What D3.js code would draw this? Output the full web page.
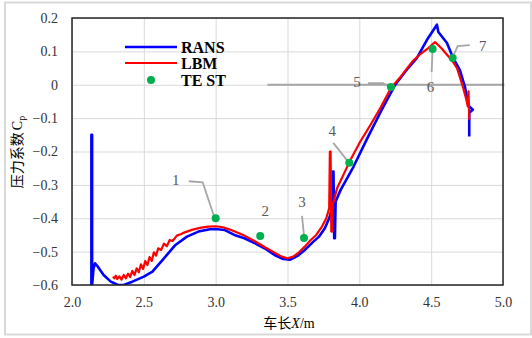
<!DOCTYPE html>
<html>
<head>
<meta charset="utf-8">
<script src="https://cdn.jsdelivr.net/npm/d3@7"></script>
<style>
  body { margin: 0; background: #fff; }
  svg { display: block; }
</style>
</head>
<body>
<svg width="532" height="338"></svg>
<script>
// ---- data ----
const xTicks = [2.0, 2.5, 3.0, 3.5, 4.0, 4.5, 5.0];
const yTicks = [0.2, 0.1, 0, -0.1, -0.2, -0.3, -0.4, -0.5, -0.6];

// RANS pressure coefficient along the car
const ransX = [2.135, 2.135, 2.14, 2.14, 2.15, 2.16, 2.18, 2.22, 2.27, 2.32, 2.36, 2.42, 2.5, 2.56, 2.64, 2.72, 2.8, 2.88, 2.96, 3.0, 3.06, 3.13, 3.2, 3.27, 3.34, 3.41, 3.47, 3.52, 3.57, 3.62, 3.68, 3.72, 3.76, 3.79, 3.81, 3.815, 3.82, 3.825, 3.83, 3.835, 3.87, 3.96, 4.05, 4.15, 4.25, 4.33, 4.40, 4.47, 4.54, 4.55, 4.61, 4.65, 4.70, 4.735, 4.755, 4.765, 4.79, 4.775, 4.765, 4.765];
const ransY = [-0.60, -0.15, -0.15, -0.60, -0.55, -0.535, -0.545, -0.57, -0.59, -0.60, -0.60, -0.59, -0.575, -0.56, -0.52, -0.48, -0.455, -0.44, -0.433, -0.432, -0.435, -0.45, -0.46, -0.474, -0.49, -0.51, -0.522, -0.524, -0.513, -0.495, -0.47, -0.455, -0.43, -0.40, -0.37, -0.26, -0.26, -0.46, -0.46, -0.35, -0.315, -0.245, -0.165, -0.08, 0.0, 0.045, 0.08, 0.134, 0.18, 0.158, 0.125, 0.083, 0.044, -0.006, -0.05, -0.065, -0.075, -0.08, -0.085, -0.155];

// LBM pressure coefficient (jagged near the front)
const lbmX = [2.285, 2.295, 2.305, 2.315, 2.33, 2.345, 2.36, 2.375, 2.39, 2.405, 2.42, 2.435, 2.45, 2.465, 2.48, 2.495, 2.51, 2.525, 2.54, 2.555, 2.57, 2.585, 2.60, 2.62, 2.64, 2.66, 2.68, 2.70, 2.73, 2.76, 2.78, 2.80, 2.84, 2.9, 2.95, 3.0, 3.05, 3.1, 3.15, 3.2, 3.27, 3.34, 3.41, 3.46, 3.5, 3.54, 3.58, 3.62, 3.66, 3.70, 3.74, 3.77, 3.79, 3.795, 3.80, 3.805, 3.81, 3.815, 3.845, 3.935, 4.0, 4.075, 4.15, 4.22, 4.28, 4.37, 4.42, 4.48, 4.527, 4.57, 4.61, 4.65, 4.68, 4.72, 4.745, 4.755, 4.76, 4.765];
const lbmY = [-0.575, -0.58, -0.572, -0.582, -0.574, -0.584, -0.57, -0.58, -0.566, -0.576, -0.558, -0.57, -0.55, -0.562, -0.538, -0.552, -0.528, -0.54, -0.516, -0.528, -0.502, -0.512, -0.49, -0.495, -0.476, -0.484, -0.465, -0.468, -0.452, -0.447, -0.443, -0.44, -0.434, -0.428, -0.425, -0.424, -0.427, -0.434, -0.443, -0.452, -0.468, -0.486, -0.503, -0.515, -0.52, -0.515, -0.502, -0.485, -0.466, -0.45, -0.425, -0.40, -0.37, -0.20, -0.20, -0.44, -0.44, -0.36, -0.31, -0.228, -0.175, -0.122, -0.067, -0.01, 0.02, 0.07, 0.09, 0.11, 0.128, 0.11, 0.09, 0.07, 0.05, -0.005, -0.045, -0.065, -0.02, -0.105];

// wind tunnel test points
const testX = [3.0, 3.31, 3.615, 3.93, 4.22, 4.51, 4.65];
const testY = [-0.40, -0.453, -0.459, -0.234, -0.007, 0.107, 0.08];
const testLabels = ["1", "2", "3", "4", "5", "6", "7"];

// ---- layout ----
const svg = d3.select("svg");
const plot = {left: 72, top: 18, right: 503, bottom: 285};

const x = d3.scaleLinear().domain([2, 5]).range([plot.left, plot.right]);
const y = d3.scaleLinear().domain([-0.6, 0.2]).range([plot.bottom, plot.top]);

const serif = "'Liberation Serif', 'Times New Roman', serif";
const cjk = "'Noto Sans CJK SC', sans-serif";

// outer chart frame
svg.append("rect")
  .attr("x", 5).attr("y", 2.5).attr("width", 526).attr("height", 332)
  .attr("fill", "none").attr("stroke", "#d9d9d9").attr("stroke-width", 2);

// gridlines
svg.append("g")
  .attr("transform", `translate(0,${plot.bottom})`)
  .call(d3.axisBottom(x).tickValues(xTicks).tickSize(-(plot.bottom - plot.top)).tickFormat(""))
  .call(g => g.select(".domain").remove())
  .call(g => g.selectAll("line").attr("stroke", "#d9d9d9").attr("stroke-width", 1));

svg.append("g")
  .attr("transform", `translate(${plot.left},0)`)
  .call(d3.axisLeft(y).tickValues(yTicks).tickSize(-(plot.right - plot.left)).tickFormat(""))
  .call(g => g.select(".domain").remove())
  .call(g => g.selectAll("line").attr("stroke", "#d9d9d9").attr("stroke-width", 1));

// tick labels
svg.append("g")
  .attr("transform", `translate(0,${plot.bottom})`)
  .call(d3.axisBottom(x).tickValues(xTicks).tickSize(0).tickPadding(12).tickFormat(d3.format(".1f")))
  .call(g => g.select(".domain").remove())
  .call(g => g.selectAll("text").attr("font-family", serif).attr("font-size", 14).attr("fill", "#333"));

svg.append("g")
  .attr("transform", `translate(${plot.left},0)`)
  .call(d3.axisLeft(y).tickValues(yTicks).tickSize(0).tickPadding(14).tickFormat(d => d === 0 ? "0" : d3.format(".1f")(d)))
  .call(g => g.select(".domain").remove())
  .call(g => g.selectAll("text").attr("font-family", serif).attr("font-size", 14).attr("fill", "#333"));

// gray zero reference line
svg.append("line")
  .attr("x1", x(3.36)).attr("x2", x(5.01))
  .attr("y1", y(0)).attr("y2", y(0))
  .attr("stroke", "#a6a6a6").attr("stroke-width", 2);

// curves
svg.append("clipPath").attr("id", "clip")
  .append("rect").attr("x", plot.left).attr("y", plot.top - 2)
  .attr("width", plot.right - plot.left).attr("height", plot.bottom - plot.top + 2);

const line = d3.line().x(d => x(d[0])).y(d => y(d[1]));
const rans = ransX.map((v, i) => [v, ransY[i]]);
const lbm  = lbmX.map((v, i) => [v, lbmY[i]]);

const curves = svg.append("g").attr("clip-path", "url(#clip)");
curves.append("path").attr("d", line(rans))
  .attr("fill", "none").attr("stroke", "#0000ff").attr("stroke-width", 2.6)
  .attr("stroke-linejoin", "round");
curves.append("path").attr("d", line(lbm))
  .attr("fill", "none").attr("stroke", "#ff0000").attr("stroke-width", 2.2)
  .attr("stroke-linejoin", "round");

// plot border
svg.append("rect")
  .attr("x", plot.left).attr("y", plot.top)
  .attr("width", plot.right - plot.left).attr("height", plot.bottom - plot.top)
  .attr("fill", "none").attr("stroke", "#262626").attr("stroke-width", 1.5);

// annotation leaders (pixel offsets from each test point)
const labelOffsets = [[-40, -33], [5, -20], [-2, -31], [-17, -27], [-34, 0], [-2, 43], [30, -7]];
const leaderOffsets = [
  [[-27, -37], [-13, -36], [-2, -3]],
  null,
  [[-2, -22], [0, -2]],
  [[-16, -20], [-1, -1]],
  [[-23, -4], [-8, -4], [-1, 0]],
  [[-1, 23], [0, 2]],
  [[17, -13], [5, -12], [0, -1]]
];

const tests = testX.map((v, i) => ({x: v, y: testY[i], label: testLabels[i], lo: labelOffsets[i], lead: leaderOffsets[i]}));

const ann = svg.append("g");
tests.forEach(t => {
  const px = x(t.x), py = y(t.y);
  if (t.lead) {
    ann.append("path")
      .attr("d", d3.line()(t.lead.map(p => [px + p[0], py + p[1]])))
      .attr("fill", "none").attr("stroke", "#a6a6a6").attr("stroke-width", 1.8);
  }
  ann.append("text")
    .attr("x", px + t.lo[0]).attr("y", py + t.lo[1])
    .attr("text-anchor", "middle")
    .attr("font-family", serif).attr("font-size", 15).attr("fill", "#595959")
    .text(t.label);
});

svg.append("g").selectAll("circle").data(tests).join("circle")
  .attr("cx", d => x(d.x)).attr("cy", d => y(d.y)).attr("r", 4)
  .attr("fill", "#00b050");

// legend
const legend = svg.append("g").attr("font-family", serif).attr("font-size", 16)
  .attr("font-weight", "bold").attr("fill", "#000");
legend.append("line").attr("x1", 125).attr("x2", 177).attr("y1", 47).attr("y2", 47)
  .attr("stroke", "#0000ff").attr("stroke-width", 2.6);
legend.append("text").attr("x", 181).attr("y", 53).text("RANS");
legend.append("line").attr("x1", 125).attr("x2", 177).attr("y1", 63).attr("y2", 63)
  .attr("stroke", "#ff0000").attr("stroke-width", 2.2);
legend.append("text").attr("x", 181).attr("y", 69).text("LBM");
legend.append("circle").attr("cx", 151).attr("cy", 80).attr("r", 4).attr("fill", "#00b050");
legend.append("text").attr("x", 181).attr("y", 86).text("TE ST");

// axis titles
const xTitle = svg.append("text")
  .attr("x", 289).attr("y", 328)
  .attr("text-anchor", "middle").attr("font-size", 14).attr("fill", "#000");
xTitle.append("tspan").attr("font-family", cjk).text("车长");
xTitle.append("tspan").attr("font-family", serif).attr("font-style", "italic").text("X");
xTitle.append("tspan").attr("font-family", serif).text("/m");

const yTitle = svg.append("text")
  .attr("transform", "translate(22,152) rotate(-90)")
  .attr("text-anchor", "middle").attr("font-size", 14).attr("fill", "#000");
yTitle.append("tspan").attr("font-family", cjk).text("压力系数");
yTitle.append("tspan").attr("font-family", serif).attr("dx", 2).text("C");
yTitle.append("tspan").attr("font-family", serif).attr("font-size", 10).attr("dy", 3).text("p");
</script>
</body>
</html>
